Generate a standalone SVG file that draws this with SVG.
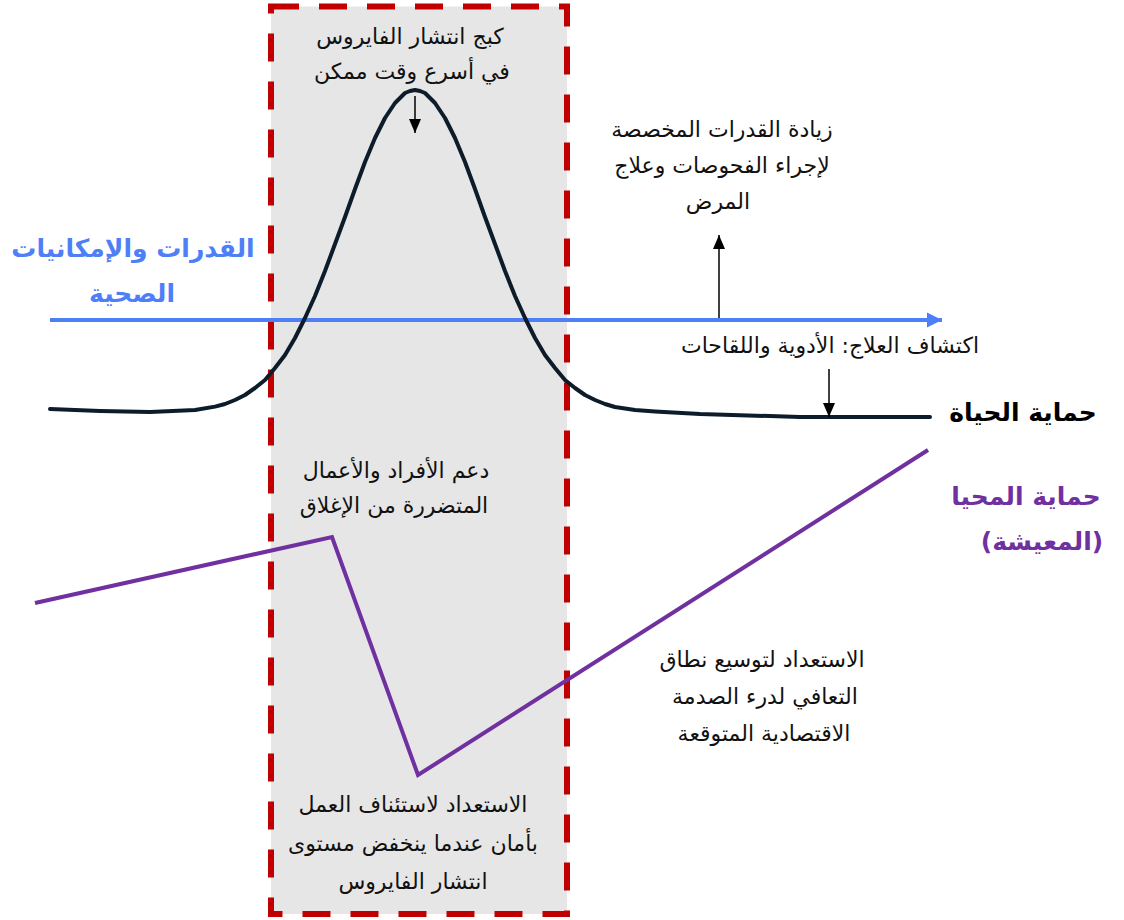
<svg xmlns="http://www.w3.org/2000/svg" width="1124" height="920" viewBox="0 0 1124 920">
<style>
.t{font-family:"DejaVu Sans",sans-serif;font-size:22px;fill:#111;text-anchor:middle}
.big{font-family:"DejaVu Sans",sans-serif;font-size:25px;font-weight:bold;text-anchor:middle}
.thin{stroke:#000;stroke-width:1.5;fill:none}
</style>
<defs>
<marker id="ah" markerUnits="userSpaceOnUse" markerWidth="14" markerHeight="12" refX="14" refY="6" orient="auto"><path d="M0,0 L14,6 L0,12 z" fill="#000"/></marker>
<marker id="bh" markerUnits="userSpaceOnUse" markerWidth="16" markerHeight="16" refX="15" refY="8" orient="auto"><path d="M0,0.5 L15,8 L0,15.5 z" fill="#4f7ff7"/></marker>
</defs>
<rect width="1124" height="920" fill="#fff"/>
<g id="lockdown-zone">
<rect x="271" y="6.5" width="296" height="907.5" fill="#e6e6e6" stroke="#c00000" stroke-width="6" stroke-dasharray="28 20"/>
</g>
<g id="connectors">
<line x1="50" y1="320" x2="942" y2="320" stroke="#4f7ff7" stroke-width="4" marker-end="url(#bh)"/>
<polyline fill="none" stroke="#0c1c2a" stroke-width="4" stroke-linejoin="round" stroke-linecap="round" points="50,409 100,411 150,412 195,410 215,406.6 225,404 235,400 245,395 255,388 265,380 275,368 285,355 295,338 305,318 315,296 325,271 335,244 345,217 355,189 365,162 375,138 385,118 395,103 405,93 410,91 415,90 420,91 425,93 435,103 445,118 455,138 465,162 475,189 485,217 495,244 505,271 515,296 525,318 535,338 545,355 555,368 565,380 575,388 585,395 595,400 605,404 615,407 635,410 655,411.5 700,414 800,417 930,417"/>
<polyline fill="none" stroke="#7030a0" stroke-width="4" stroke-linejoin="miter" points="35,603 332,537 418,775 928,450"/>
<line class="thin" x1="415" y1="96" x2="415" y2="133" marker-end="url(#ah)"/>
<line class="thin" x1="719" y1="318" x2="719" y2="235" marker-end="url(#ah)"/>
<line class="thin" x1="829" y1="369" x2="829" y2="417" marker-end="url(#ah)"/>
</g>
<g id="flatten-label">
<text class="t" x="410" y="44">كبج انتشار الفايروس</text>
<text class="t" x="412" y="79">في أسرع وقت ممكن</text>
</g>
<g id="capacity-label">
<text class="t" x="722" y="137">زيادة القدرات المخصصة</text>
<text class="t" x="722" y="173">لإجراء الفحوصات وعلاج</text>
<text class="t" x="718" y="209">المرض</text>
</g>
<g id="health-label">
<text class="big" x="133" y="257" fill="#4f7ff7">القدرات والإمكانيات</text>
<text class="big" x="132" y="302" fill="#4f7ff7">الصحية</text>
</g>
<g id="treatment-label">
<text class="t" x="830" y="353">اكتشاف العلاج: الأدوية واللقاحات</text>
</g>
<g id="lives-label">
<text class="big" x="1023" y="421" fill="#000">حماية الحياة</text>
</g>
<g id="support-label">
<text class="t" x="396" y="478">دعم الأفراد والأعمال</text>
<text class="t" x="394" y="513">المتضررة من الإغلاق</text>
</g>
<g id="livelihood-label">
<text class="big" x="1026" y="505" fill="#7030a0">حماية المحيا</text>
<text class="big" x="1042" y="550" fill="#7030a0">(المعيشة)</text>
</g>
<g id="recovery-label">
<text class="t" x="762" y="667">الاستعداد لتوسيع نطاق</text>
<text class="t" x="765" y="704">التعافي لدرء الصدمة</text>
<text class="t" x="764" y="741">الاقتصادية المتوقعة</text>
</g>
<g id="resume-label">
<text class="t" x="413" y="812">الاستعداد لاستئناف العمل</text>
<text class="t" x="413" y="851">بأمان عندما ينخفض مستوى</text>
<text class="t" x="413" y="889">انتشار الفايروس</text>
</g>
</svg>
